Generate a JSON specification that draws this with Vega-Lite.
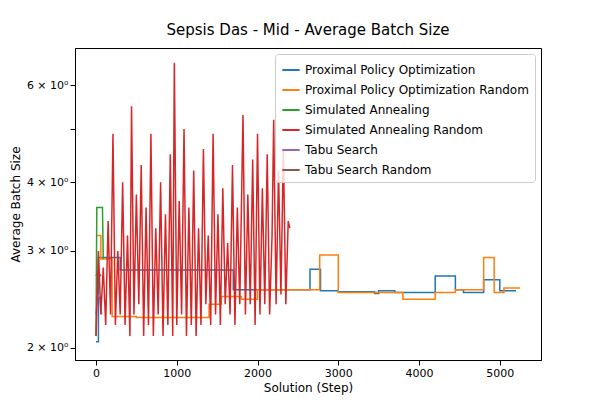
{
  "$schema": "https://vega.github.io/schema/vega-lite/v6.json",
  "autosize": "none",
  "width": 466,
  "height": 312,
  "padding": {"left": 75, "top": 48, "right": 59, "bottom": 40},
  "title": {"text": "Sepsis Das - Mid - Average Batch Size", "fontSize": 15, "font": "DejaVu Sans", "fontWeight": "normal", "offset": 10},
  "config": {"font": "DejaVu Sans", "axis": {"grid": false, "labelFontSize": 11, "titleFontSize": 12, "titleFontWeight": "normal", "domainColor": "black", "tickColor": "black", "labelColor": "black"}, "view": {"stroke": "black"}},
  "datasets": {
    "steps": [
      {"s": "Proximal Policy Optimization", "x": 0, "y": 2.05}, {"s": "Proximal Policy Optimization", "x": 30, "y": 2.92}, {"s": "Proximal Policy Optimization", "x": 300, "y": 2.77}, {"s": "Proximal Policy Optimization", "x": 1700, "y": 2.55}, {"s": "Proximal Policy Optimization", "x": 2650, "y": 2.78}, {"s": "Proximal Policy Optimization", "x": 2780, "y": 2.54}, {"s": "Proximal Policy Optimization", "x": 3000, "y": 2.53}, {"s": "Proximal Policy Optimization", "x": 3450, "y": 2.51}, {"s": "Proximal Policy Optimization", "x": 3500, "y": 2.54}, {"s": "Proximal Policy Optimization", "x": 3700, "y": 2.52}, {"s": "Proximal Policy Optimization", "x": 4200, "y": 2.70}, {"s": "Proximal Policy Optimization", "x": 4450, "y": 2.55}, {"s": "Proximal Policy Optimization", "x": 4550, "y": 2.52}, {"s": "Proximal Policy Optimization", "x": 4800, "y": 2.66}, {"s": "Proximal Policy Optimization", "x": 5000, "y": 2.54}, {"s": "Proximal Policy Optimization", "x": 5200, "y": 2.54},
      {"s": "Proximal Policy Optimization Random", "x": 0, "y": 3.2}, {"s": "Proximal Policy Optimization Random", "x": 60, "y": 2.9}, {"s": "Proximal Policy Optimization Random", "x": 200, "y": 2.28}, {"s": "Proximal Policy Optimization Random", "x": 500, "y": 2.27}, {"s": "Proximal Policy Optimization Random", "x": 1400, "y": 2.4}, {"s": "Proximal Policy Optimization Random", "x": 1550, "y": 2.48}, {"s": "Proximal Policy Optimization Random", "x": 1800, "y": 2.45}, {"s": "Proximal Policy Optimization Random", "x": 2000, "y": 2.55}, {"s": "Proximal Policy Optimization Random", "x": 2770, "y": 2.95}, {"s": "Proximal Policy Optimization Random", "x": 3000, "y": 2.52}, {"s": "Proximal Policy Optimization Random", "x": 3800, "y": 2.45}, {"s": "Proximal Policy Optimization Random", "x": 4200, "y": 2.52}, {"s": "Proximal Policy Optimization Random", "x": 4450, "y": 2.55}, {"s": "Proximal Policy Optimization Random", "x": 4800, "y": 2.92}, {"s": "Proximal Policy Optimization Random", "x": 4930, "y": 2.52}, {"s": "Proximal Policy Optimization Random", "x": 5050, "y": 2.57}, {"s": "Proximal Policy Optimization Random", "x": 5250, "y": 2.57}
    ],
    "lines": [
      {"s": "Simulated Annealing", "x": 0, "y": 2.1}, {"s": "Simulated Annealing", "x": 10, "y": 3.6}, {"s": "Simulated Annealing", "x": 80, "y": 3.6}, {"s": "Simulated Annealing", "x": 90, "y": 2.9},
      {"s": "Tabu Search", "x": 0, "y": 2.3}, {"s": "Tabu Search", "x": 20, "y": 2.5}, {"s": "Tabu Search", "x": 50, "y": 2.45}, {"s": "Tabu Search", "x": 70, "y": 2.3},
      {"s": "Tabu Search Random", "x": 0, "y": 2.7}, {"s": "Tabu Search Random", "x": 30, "y": 2.75}, {"s": "Tabu Search Random", "x": 60, "y": 2.7},
      {"s": "Simulated Annealing Random", "x": 0, "y": 2.1}, {"s": "Simulated Annealing Random", "x": 30, "y": 3.0}, {"s": "Simulated Annealing Random", "x": 60, "y": 2.3}, {"s": "Simulated Annealing Random", "x": 90, "y": 2.8}, {"s": "Simulated Annealing Random", "x": 120, "y": 2.2}, {"s": "Simulated Annealing Random", "x": 150, "y": 3.4}, {"s": "Simulated Annealing Random", "x": 180, "y": 2.3}, {"s": "Simulated Annealing Random", "x": 210, "y": 4.9}, {"s": "Simulated Annealing Random", "x": 240, "y": 2.2}, {"s": "Simulated Annealing Random", "x": 270, "y": 3.0}, {"s": "Simulated Annealing Random", "x": 300, "y": 2.3}, {"s": "Simulated Annealing Random", "x": 330, "y": 4.0}, {"s": "Simulated Annealing Random", "x": 360, "y": 2.2}, {"s": "Simulated Annealing Random", "x": 390, "y": 3.2}, {"s": "Simulated Annealing Random", "x": 420, "y": 2.1}, {"s": "Simulated Annealing Random", "x": 440, "y": 5.5}, {"s": "Simulated Annealing Random", "x": 470, "y": 2.3}, {"s": "Simulated Annealing Random", "x": 500, "y": 3.8}, {"s": "Simulated Annealing Random", "x": 530, "y": 2.4}, {"s": "Simulated Annealing Random", "x": 560, "y": 4.3}, {"s": "Simulated Annealing Random", "x": 590, "y": 2.1}, {"s": "Simulated Annealing Random", "x": 620, "y": 3.6}, {"s": "Simulated Annealing Random", "x": 650, "y": 2.2}, {"s": "Simulated Annealing Random", "x": 680, "y": 4.9}, {"s": "Simulated Annealing Random", "x": 710, "y": 2.1}, {"s": "Simulated Annealing Random", "x": 740, "y": 3.3}, {"s": "Simulated Annealing Random", "x": 770, "y": 2.3}, {"s": "Simulated Annealing Random", "x": 800, "y": 4.0}, {"s": "Simulated Annealing Random", "x": 830, "y": 2.1}, {"s": "Simulated Annealing Random", "x": 860, "y": 3.5}, {"s": "Simulated Annealing Random", "x": 890, "y": 2.2}, {"s": "Simulated Annealing Random", "x": 920, "y": 4.5}, {"s": "Simulated Annealing Random", "x": 950, "y": 2.1}, {"s": "Simulated Annealing Random", "x": 970, "y": 6.6}, {"s": "Simulated Annealing Random", "x": 1000, "y": 2.2}, {"s": "Simulated Annealing Random", "x": 1030, "y": 3.7}, {"s": "Simulated Annealing Random", "x": 1060, "y": 2.3}, {"s": "Simulated Annealing Random", "x": 1090, "y": 5.0}, {"s": "Simulated Annealing Random", "x": 1120, "y": 2.1}, {"s": "Simulated Annealing Random", "x": 1150, "y": 3.6}, {"s": "Simulated Annealing Random", "x": 1180, "y": 2.2}, {"s": "Simulated Annealing Random", "x": 1210, "y": 4.2}, {"s": "Simulated Annealing Random", "x": 1240, "y": 2.1}, {"s": "Simulated Annealing Random", "x": 1270, "y": 3.3}, {"s": "Simulated Annealing Random", "x": 1300, "y": 2.2}, {"s": "Simulated Annealing Random", "x": 1330, "y": 4.6}, {"s": "Simulated Annealing Random", "x": 1360, "y": 2.4}, {"s": "Simulated Annealing Random", "x": 1390, "y": 3.2}, {"s": "Simulated Annealing Random", "x": 1420, "y": 2.2}, {"s": "Simulated Annealing Random", "x": 1450, "y": 4.9}, {"s": "Simulated Annealing Random", "x": 1480, "y": 2.3}, {"s": "Simulated Annealing Random", "x": 1510, "y": 3.5}, {"s": "Simulated Annealing Random", "x": 1540, "y": 2.2}, {"s": "Simulated Annealing Random", "x": 1570, "y": 3.9}, {"s": "Simulated Annealing Random", "x": 1600, "y": 2.4}, {"s": "Simulated Annealing Random", "x": 1630, "y": 3.1}, {"s": "Simulated Annealing Random", "x": 1660, "y": 2.3}, {"s": "Simulated Annealing Random", "x": 1690, "y": 4.3}, {"s": "Simulated Annealing Random", "x": 1720, "y": 2.2}, {"s": "Simulated Annealing Random", "x": 1750, "y": 3.6}, {"s": "Simulated Annealing Random", "x": 1780, "y": 2.4}, {"s": "Simulated Annealing Random", "x": 1820, "y": 5.3}, {"s": "Simulated Annealing Random", "x": 1850, "y": 2.3}, {"s": "Simulated Annealing Random", "x": 1880, "y": 3.8}, {"s": "Simulated Annealing Random", "x": 1910, "y": 2.4}, {"s": "Simulated Annealing Random", "x": 1940, "y": 4.4}, {"s": "Simulated Annealing Random", "x": 1970, "y": 2.2}, {"s": "Simulated Annealing Random", "x": 2000, "y": 4.9}, {"s": "Simulated Annealing Random", "x": 2030, "y": 2.3}, {"s": "Simulated Annealing Random", "x": 2060, "y": 3.9}, {"s": "Simulated Annealing Random", "x": 2090, "y": 2.4}, {"s": "Simulated Annealing Random", "x": 2120, "y": 4.5}, {"s": "Simulated Annealing Random", "x": 2150, "y": 2.3}, {"s": "Simulated Annealing Random", "x": 2180, "y": 3.2}, {"s": "Simulated Annealing Random", "x": 2200, "y": 5.2}, {"s": "Simulated Annealing Random", "x": 2230, "y": 2.4}, {"s": "Simulated Annealing Random", "x": 2260, "y": 4.2}, {"s": "Simulated Annealing Random", "x": 2290, "y": 2.5}, {"s": "Simulated Annealing Random", "x": 2320, "y": 4.6}, {"s": "Simulated Annealing Random", "x": 2350, "y": 2.4}, {"s": "Simulated Annealing Random", "x": 2380, "y": 3.4}, {"s": "Simulated Annealing Random", "x": 2400, "y": 3.3}
    ]
  },
  "encoding": {
    "x": {"field": "x", "type": "quantitative", "title": "Solution (Step)", "scale": {"domain": [-260, 5510], "nice": false}, "axis": {"values": [0, 1000, 2000, 3000, 4000, 5000], "format": "d"}},
    "y": {"field": "y", "type": "quantitative", "title": "Average Batch Size", "scale": {"type": "log", "domain": [1.9, 7.02], "nice": false}, "axis": {"values": [2, 3, 4, 5, 6], "labelExpr": "datum.value == 5 ? '' : datum.value + ' × 10⁰'"}},
    "color": {"field": "s", "type": "nominal", "scale": {"domain": ["Proximal Policy Optimization", "Proximal Policy Optimization Random", "Simulated Annealing", "Simulated Annealing Random", "Tabu Search", "Tabu Search Random"], "range": ["#1f77b4", "#ff7f0e", "#2ca02c", "#d62728", "#9467bd", "#8c564b"]}, "legend": {"title": null, "orient": "top-right", "offset": 6, "labelFontSize": 12, "symbolType": "stroke", "symbolStrokeWidth": 2, "symbolSize": 300, "rowPadding": 4, "padding": 6, "strokeColor": "#cccccc", "fillColor": "rgba(255,255,255,0.8)", "cornerRadius": 3, "labelLimit": 400}}
  },
  "layer": [
    {"data": {"name": "steps"}, "mark": {"type": "line", "interpolate": "step-after", "strokeWidth": 1.5}},
    {"data": {"name": "lines"}, "mark": {"type": "line", "strokeWidth": 1.5}}
  ]
}
